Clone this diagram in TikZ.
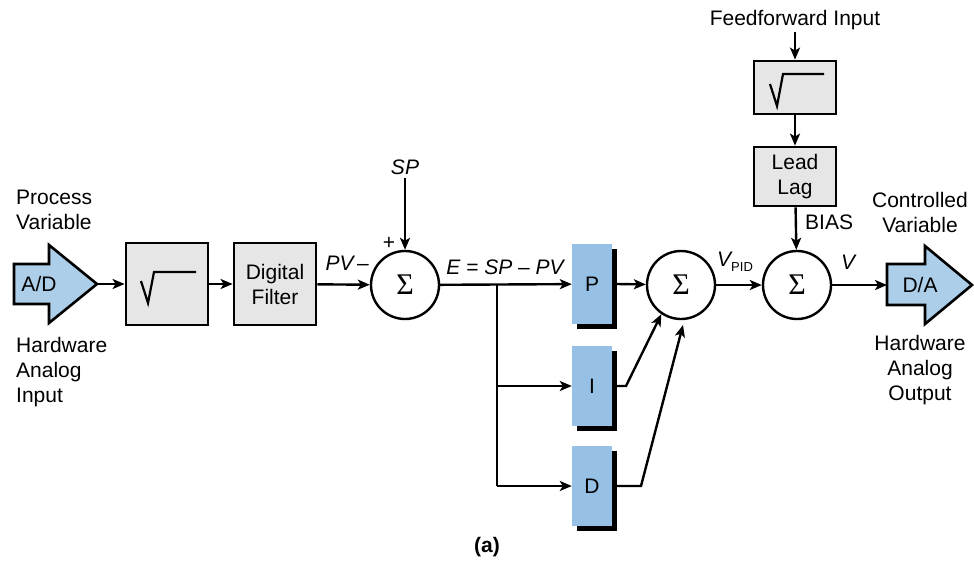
\documentclass[tikz,border=0pt]{standalone}
\usepackage{fontspec}
\setmainfont{Liberation Sans}
\newfontfamily\serifsym{Liberation Serif}
\usetikzlibrary{arrows.meta}
\definecolor{boxgray}{RGB}{230,230,230}
\definecolor{pidblue}{RGB}{150,192,228}
\definecolor{ioblue}{RGB}{172,206,233}
\begin{document}
\begin{tikzpicture}[x=1pt,y=-1pt,
  txt/.style={font=\fontsize{21}{25}\selectfont, align=center, inner sep=0pt},
  itxt/.style={font=\fontsize{21}{25}\selectfont\itshape, inner sep=0pt},
  graybox/.style={draw, line width=2.8pt, fill=boxgray, minimum width=82pt, inner sep=0pt, font=\fontsize{21}{25}\selectfont, align=center},
  sumnode/.style={draw, circle, line width=2.4pt, fill=white, minimum size=68pt, inner sep=0pt, font=\fontsize{30}{30}\selectfont\serifsym},
  pidbox/.style={fill=pidblue, minimum width=40pt, minimum height=80pt, inner sep=0pt, font=\fontsize{21}{25}\selectfont},
  conn/.style={line width=2.4pt, -{Stealth[length=12pt,width=10pt,inset=3pt]}},
  plain/.style={line width=2.4pt},
  radical/.style={line width=2.2pt, line join=miter}
]
\useasboundingbox (0,0) rectangle (974,562);

% input / output arrows
\draw[line width=2.6pt, fill=ioblue, line join=miter]
  (14,264) -- (49,264) -- (49,245) -- (97,284) -- (49,323) -- (49,304) -- (14,304) -- cycle;
\node[txt] (ad) at (39,284) {A/D};
\coordinate (adtip) at (97,284);

\draw[line width=2.6pt, fill=ioblue, line join=miter]
  (887,264) -- (925,264) -- (925,246) -- (972,285) -- (925,324) -- (925,305) -- (887,305) -- cycle;
\node[txt] (da) at (920,285) {D/A};
\coordinate (dain) at (887,285);

% boxes
\node[graybox, minimum height=82pt] (sq1) at (167,284) {};
\draw[radical] (141,281) -- (148,303) -- (154,272) -- (196,272);
\node[graybox, minimum height=82pt] (filt) at (275,284) {Digital\\Filter};
\node[graybox, minimum height=53pt] (sq2) at (795,87.5) {};
\draw[radical] (770,84) -- (777,106) -- (783,74) -- (824,74);
\node[graybox, minimum height=59pt] (ll) at (795,176.5) {Lead\\Lag};

% summing junctions
\node[sumnode] (s1) at (405,285) {Σ};
\node[sumnode] (s2) at (681,285) {Σ};
\node[sumnode] (s3) at (797,285) {Σ};

% PID blocks with shadows
\foreach \n/\t/\y in {p/P/284, i/I/386, d/D/486}{
  \fill (597,\y+5) +(-20,-40) rectangle +(20,40);
  \node[pidbox] (\n) at (592,\y) {\t};
}
\coordinate (pout) at (617,284);
\coordinate (iout) at (617,386);
\coordinate (dout) at (617,486);

% labels
\node[txt, align=left, anchor=west] (pvl) at (16,210) {Process\\Variable};
\node[txt, align=left, anchor=north west] (hai) at (16,337) {Hardware\\Analog\\Input};
\node[itxt] (sp) at (405,167) {SP};
\node[txt] (plus) at (389,243) {+};
\node[itxt, anchor=east] (pv) at (369,263) {PV\,--};
\node[itxt] (e) at (505,267) {E = SP -- PV};
\node[itxt, anchor=west] (vpid) at (717,262) {V\raisebox{-5pt}{\upshape\fontsize{13}{13}\selectfont PID}};
\node[itxt] (v) at (848,262) {V};
\node[txt, anchor=west] (bias) at (805,222) {BIAS};
\node[txt] (cv) at (920,212) {Controlled\\Variable};
\node[txt, anchor=north] (hao) at (920,335) {Hardware\\Analog\\Output};
\node[txt] (ff) at (795,20) {Feedforward Input};
\node[txt, font=\fontsize{21}{25}\selectfont\bfseries] (cap) at (487,547) {(a)};

% connectors
\coordinate (spend) at (405,178);
\coordinate (ffend) at (795,32);
\draw[conn] (adtip) -- (sq1);
\draw[conn] (sq1) -- (filt);
\draw[conn] (filt) -- (s1);
\draw[conn] (spend) -- (s1.north);
\draw[conn] (s1) -- (p);
\coordinate (br) at (497,285);
\draw[plain] (br) -- (497,486);
\draw[conn] (497,386) -- (i);
\draw[conn] (497,486) -- (d);
\draw[conn] (pout) -- (s2);
\draw[conn] (iout) -- (626,386) -- (s2.236);
\coordinate (dtip) at (683,325);
\draw[conn] (dout) -- (641,486) -- (dtip);
\draw[conn] (s2) -- (s3);
\draw[conn] (s3) -- (dain);
\draw[conn] (ffend) -- (sq2.north);
\draw[conn] (sq2) -- (ll);
\draw[conn] (ll) -- (s3);
\end{tikzpicture}
\end{document}
